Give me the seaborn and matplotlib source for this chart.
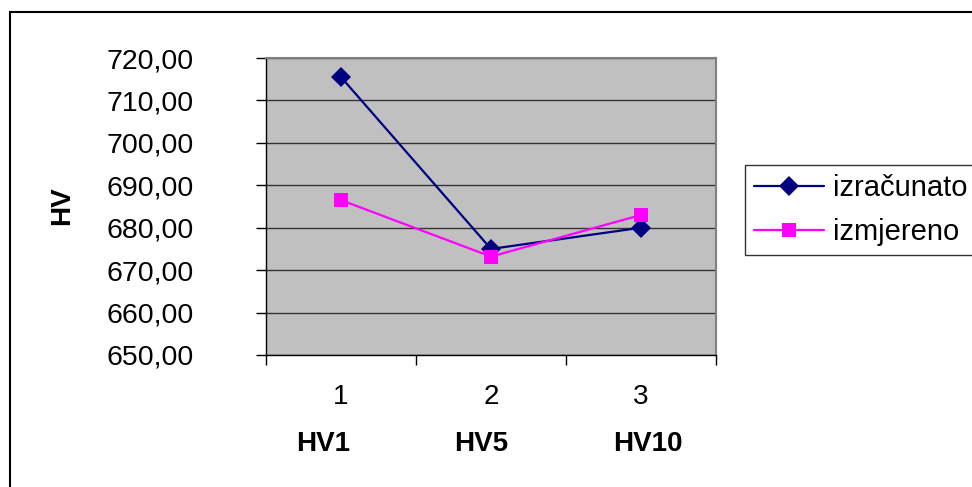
import pandas as pd
import seaborn as sns
import matplotlib.pyplot as plt
from matplotlib.patches import Rectangle
from matplotlib.lines import Line2D
from matplotlib.ticker import FuncFormatter

# Data
categories = ['1', '2', '3']
group_labels = ['HV1', 'HV5', 'HV10']
izracunato = [715.5, 675.0, 680.0]
izmjereno = [686.5, 673.2, 683.0]
y_ticks = [650, 660, 670, 680, 690, 700, 710, 720]

# Long-format table for seaborn
df = pd.DataFrame({
    'pos': list(range(len(categories))) * 2,
    'HV': izracunato + izmjereno,
    'serija': ['izračunato'] * 3 + ['izmjereno'] * 3,
})

sns.set_style('white')
plt.rcParams['font.family'] = ['Liberation Sans', 'DejaVu Sans']
plt.rcParams['text.color'] = 'black'
plt.rcParams['xtick.color'] = 'black'
plt.rcParams['ytick.color'] = 'black'

fig = plt.figure(figsize=(9.72, 4.87), dpi=100)
ax = fig.add_axes([266 / 972, 1 - 355 / 487, 450 / 972, 297 / 487])

sns.lineplot(data=df, x='pos', y='HV', hue='serija', style='serija',
             palette={'izračunato': '#000080', 'izmjereno': '#FF00FF'},
             markers={'izračunato': 'D', 'izmjereno': 's'},
             dashes=False, markersize=10, markeredgewidth=0, linewidth=1.6,
             legend=False, ax=ax)

ax.set_facecolor('#C0C0C0')
ax.set_xlim(-0.5, len(categories) - 0.5)
ax.set_ylim(y_ticks[0], y_ticks[-1])
ax.set_yticks(y_ticks)
ax.yaxis.set_major_formatter(FuncFormatter(lambda v, p: f'{v:.2f}'.replace('.', ',')))
ax.grid(axis='y', color='#333333', linewidth=1)
ax.set_axisbelow(True)

# category ticks at boundaries, labels at centres
ax.set_xticks([i - 0.5 for i in range(len(categories) + 1)])
ax.set_xticklabels([])
ax.set_xticks(range(len(categories)), minor=True)
ax.set_xticklabels(categories, minor=True)
ax.tick_params(axis='x', which='major', direction='out', length=7, width=1, color='black', bottom=True)
ax.tick_params(axis='x', which='minor', length=0, pad=21, labelsize=20, labelcolor='black')
ax.tick_params(axis='y', direction='out', length=7, width=1, color='black', left=True, pad=45,
               labelsize=20.5, labelcolor='black')
ax.set_xlabel('')
ax.set_ylabel('')

for side in ['left', 'bottom']:
    ax.spines[side].set_color('black')
    ax.spines[side].set_linewidth(1)
for side in ['top', 'right']:
    ax.spines[side].set_color('#808080')
    ax.spines[side].set_linewidth(1.5)

# x-axis title: the group names, spaced by hand in the original
for xpos, lab in zip([0.127, 0.478, 0.849], group_labels):
    ax.text(xpos, -0.30, lab, transform=ax.transAxes, ha='center', va='center',
            fontsize=20, fontweight='bold', color='black')

fig.text(62 / 972, 1 - 206 / 487, 'HV', rotation=90, ha='center', va='center',
         fontsize=20, fontweight='bold', color='black')

# legend
handles = [
    Line2D([], [], color='#000080', marker='D', markersize=10, markeredgewidth=0, linewidth=1.6),
    Line2D([], [], color='#FF00FF', marker='s', markersize=10, markeredgewidth=0, linewidth=1.6),
]
leg = fig.legend(handles, ['izračunato', 'izmjereno'], loc='center left',
                 bbox_to_anchor=(745 / 972, 1 - 210 / 487), fontsize=21,
                 frameon=True, fancybox=False, handlelength=2.4, handletextpad=0.3,
                 borderpad=0.3, labelspacing=0.55, borderaxespad=0)
leg.get_frame().set_edgecolor('black')
leg.get_frame().set_linewidth(1)
for t in leg.get_texts():
    t.set_color('black')

# outer chart border
fig.patches.append(Rectangle((9.5 / 972, -0.1), 1.0, 1.1 - 12 / 487, transform=fig.transFigure,
                             fill=False, edgecolor='black', linewidth=1.5))

fig.savefig('out.png', dpi=100)
